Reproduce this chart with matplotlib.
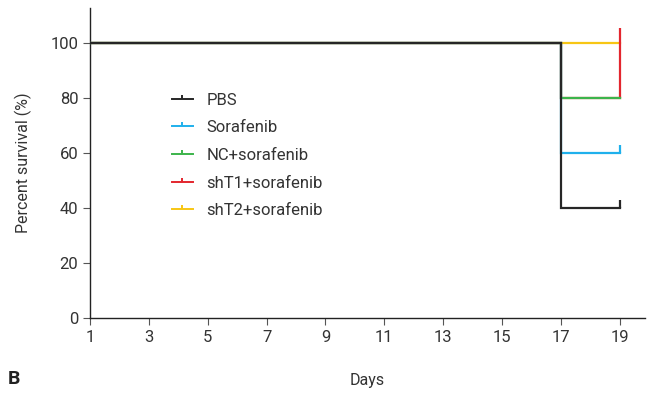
import matplotlib
matplotlib.use('Agg')
import matplotlib.pyplot as plt
from matplotlib.lines import Line2D

plt.rcParams['font.family'] = ['Roboto', 'DejaVu Sans']

# Kaplan-Meier style survival steps
days = [1, 17, 19]
groups = ['PBS', 'Sorafenib', 'NC+sorafenib', 'shT1+sorafenib', 'shT2+sorafenib']
colors = ['#262626', '#1fb0ec', '#3cb44b', '#e3262e', '#f7c614']
survival = {
    'PBS':            [100, 40, 40],
    'Sorafenib':      [100, 60, 60],
    'NC+sorafenib':   [100, 80, 80],
    'shT1+sorafenib': [100, 80, 80],
    'shT2+sorafenib': [100, 100, 100],
}
# top of the censor mark drawn at the last day
censor_top = {
    'PBS': 43, 'Sorafenib': 63, 'NC+sorafenib': 80,
    'shT1+sorafenib': 105.5, 'shT2+sorafenib': 100,
}

fig = plt.figure(figsize=(6.48, 3.93), dpi=100)
ax = fig.add_axes([0.139, 0.191, 0.856, 0.789])

order = ['shT2+sorafenib', 'shT1+sorafenib', 'NC+sorafenib', 'Sorafenib', 'PBS']
for i, g in enumerate(order):
    c = colors[groups.index(g)]
    ax.step(days, survival[g], where='post', color=c, lw=1.6, zorder=2 + i,
            solid_joinstyle='miter')
    last = survival[g][-1]
    if censor_top[g] != last:
        ax.plot([days[-1], days[-1]], [last, censor_top[g]], color=c, lw=1.6,
                zorder=2 + i, solid_capstyle='butt')

ax.set_xlim(1, 19.85)
ax.set_ylim(0, 112.7)
ax.set_xticks(range(1, 20, 2))
ax.set_yticks(range(0, 101, 20))
for s in ['top', 'right']:
    ax.spines[s].set_visible(False)
for s in ['left', 'bottom']:
    ax.spines[s].set_linewidth(1.0)
    ax.spines[s].set_color('#222222')
ax.tick_params(direction='out', length=5, width=0.8, colors='#555555',
               labelcolor='#333333', labelsize=12)
ax.set_ylabel('Percent survival (%)', fontsize=11.5, color='#333333', labelpad=13)
ax.set_xlabel('Days', fontsize=11.5, color='#333333', labelpad=20)

# legend keys: short line with a small upward tick in the middle
handles = [Line2D([], [], color=c, lw=1.4, marker=2, markersize=3,
                  markeredgewidth=1.4) for c in colors]
leg = ax.legend(handles, groups, loc='upper left', bbox_to_anchor=(0.12, 0.775),
                frameon=False, fontsize=12, handlelength=1.3, handletextpad=0.8,
                labelspacing=0.76, labelcolor='#333333')

fig.text(0.012, 0.022, 'B', fontsize=14, fontweight='bold', color='#222222')

fig.savefig('out.png', dpi=100)
